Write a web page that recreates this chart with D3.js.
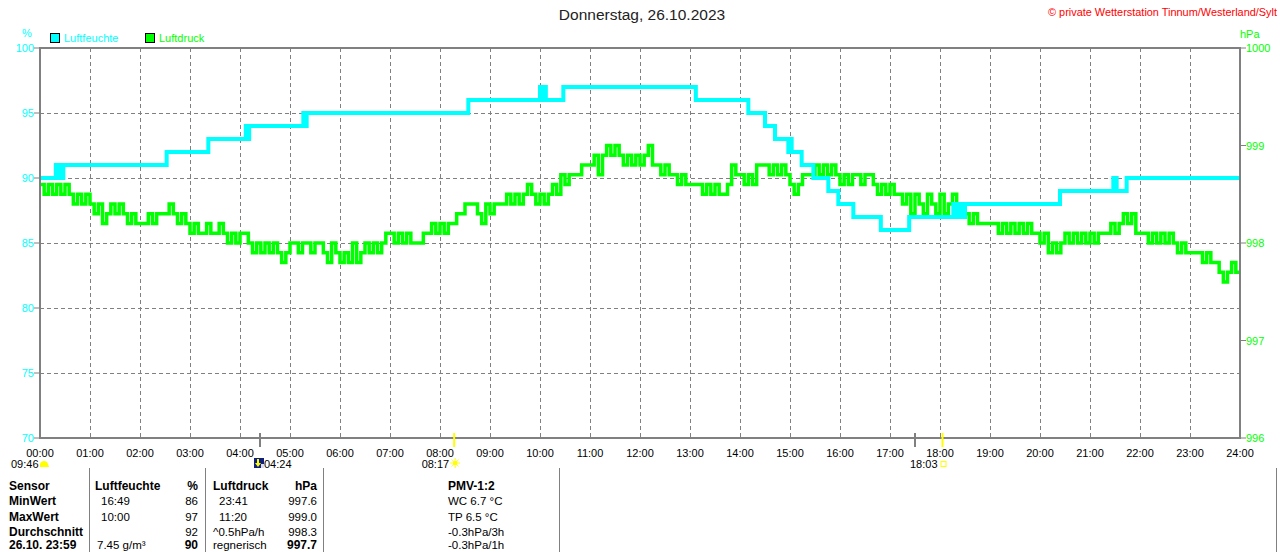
<!DOCTYPE html>
<html><head><meta charset="utf-8">
<script src="https://cdn.jsdelivr.net/npm/d3@7"></script>
<style>
body{margin:0;background:#fff;}
svg{display:block;font-family:"Liberation Sans",Arial,sans-serif;}
</style>
</head><body>
<svg id="c" width="1280" height="552"></svg>
<script>
// ---------- DATA ----------
const title = "Donnerstag, 26.10.2023";
const copyright = "© private Wetterstation Tinnum/Westerland/Sylt";
const seriesNames = ["Luftfeuchte", "Luftdruck"];
const unitLeft = "%", unitRight = "hPa";
const xTickLabels = ["00:00","01:00","02:00","03:00","04:00","05:00","06:00","07:00","08:00","09:00","10:00","11:00","12:00","13:00","14:00","15:00","16:00","17:00","18:00","19:00","20:00","21:00","22:00","23:00","24:00"];
const humTicks = [70, 75, 80, 85, 90, 95, 100];
const pressTicks = [996, 997, 998, 999, 1000];

// humidity (%) step change points, minutes after midnight
const humTimes  = [0,19,22,23,26,28,152,202,247,249,251,316,318,320,514,600,602,604,607,628,787,850,870,882,898,900,902,914,928,946,958,976,1009,1043,1096,1098,1102,1106,1110,1224,1288,1292,1304,1440];
const humValues = [90,91,90,91,90,91,92,93,94,93,94,95,94,95,96,97,96,97,96,97,96,95,94,93,92,93,92,91,90,89,88,87,86,87,88,87,88,87,88,89,90,89,90,90];

// air pressure (hPa), one reading every 5 minutes (12 per hour), last = 24:00
const pressStepMin = 5;
const pressValues = [
 998.6,998.5,998.6,998.5,998.6,998.5,998.6,998.5,998.4,998.5,998.4,998.5,
 998.4,998.3,998.4,998.2,998.3,998.4,998.3,998.4,998.3,998.2,998.3,998.2,
 998.2,998.2,998.3,998.2,998.3,998.3,998.3,998.4,998.3,998.2,998.3,998.2,
 998.1,998.2,998.1,998.1,998.2,998.1,998.1,998.2,998.1,998.0,998.1,998.0,
 998.1,998.1,998.0,997.9,998.0,997.9,998.0,997.9,998.0,997.9,997.8,997.9,
 998.0,998.0,997.9,998.0,998.0,997.9,998.0,998.0,997.9,997.8,998.0,997.9,
 997.8,997.9,997.8,998.0,997.8,997.9,998.0,997.9,998.0,997.9,998.0,998.1,
 998.1,998.0,998.1,998.0,998.1,998.0,998.0,998.0,998.1,998.1,998.2,998.1,
 998.2,998.1,998.2,998.2,998.3,998.3,998.4,998.4,998.4,998.3,998.2,998.4,
 998.3,998.4,998.4,998.4,998.5,998.4,998.5,998.4,998.5,998.6,998.5,998.4,
 998.5,998.4,998.5,998.6,998.5,998.7,998.6,998.7,998.7,998.7,998.8,998.8,
 998.8,998.9,998.7,998.9,999.0,998.9,999.0,998.9,998.8,998.9,998.8,998.9,
 998.8,998.9,999.0,998.8,998.8,998.7,998.8,998.7,998.7,998.6,998.7,998.6,
 998.6,998.6,998.6,998.5,998.6,998.5,998.6,998.5,998.5,998.6,998.8,998.7,
 998.7,998.6,998.7,998.6,998.8,998.8,998.8,998.7,998.8,998.7,998.8,998.7,
 998.6,998.5,998.6,998.7,998.7,998.7,998.8,998.7,998.8,998.7,998.8,998.7,
 998.6,998.7,998.6,998.7,998.7,998.6,998.7,998.7,998.6,998.5,998.6,998.5,
 998.6,998.5,998.5,998.4,998.5,998.3,998.5,998.4,998.3,998.5,998.4,998.3,
 998.5,998.3,998.4,998.5,998.3,998.4,998.3,998.2,998.3,998.2,998.2,998.2,
 998.2,998.2,998.1,998.2,998.1,998.2,998.1,998.2,998.1,998.2,998.1,998.1,
 998.0,998.1,997.9,998.0,997.9,998.0,998.1,998.0,998.1,998.0,998.1,998.0,
 998.1,998.0,998.1,998.1,998.1,998.2,998.1,998.2,998.3,998.2,998.3,998.1,
 998.1,998.1,998.0,998.1,998.0,998.1,998.0,998.1,998.0,997.9,998.0,997.9,
 997.9,997.9,997.9,997.8,997.9,997.8,997.8,997.7,997.6,997.7,997.8,997.7,
 997.7
];

// astronomical markers (minutes after midnight)
const eventTimes  = [264, 497, 1083];       // 04:24, 08:17, 18:03
const eventLabels = ["04:24", "08:17", "18:03"];
const eventKinds  = ["moon", "sun", "sunset"];
const extraMarkTime = 1050;                 // gray mark 17:30
const moonsetLabel = "09:46";

// summary table
const tableRows = [
  ["Sensor", "Luftfeuchte", "%", "Luftdruck", "hPa", "PMV-1:2"],
  ["MinWert", "16:49", "86", "23:41", "997.6", "WC 6.7 °C"],
  ["MaxWert", "10:00", "97", "11:20", "999.0", "TP 6.5 °C"],
  ["Durchschnitt", "", "92", "^0.5hPa/h", "998.3", "-0.3hPa/3h"],
  ["26.10. 23:59", "7.45 g/m³", "90", "regnerisch", "997.7", "-0.3hPa/1h"]
];

// ---------- STYLE / LAYOUT ----------
const L = 40, R = 1240, T = 48, B = 438;
const cHum = "#00ffff", cPress = "#00ff00", cAxis = "#808080";

const svg = d3.select("#c");
const x = d3.scaleLinear().domain([0, 1440]).range([L, R]);
const yH = d3.scaleLinear().domain([70, 100]).range([B, T]);
const yP = d3.scaleLinear().domain([996, 1000]).range([B, T]);

// title & copyright
svg.append("text").attr("x", 642).attr("y", 20).attr("text-anchor", "middle")
  .attr("font-size", 15.5).attr("fill", "#222").text(title);
svg.append("text").attr("x", 1277).attr("y", 16).attr("text-anchor", "end")
  .attr("font-size", 11).attr("fill", "#ff0000")
  .attr("textLength", 229).attr("lengthAdjust", "spacingAndGlyphs").text(copyright);

// units
svg.append("text").attr("x", 22).attr("y", 37).attr("font-size", 11).attr("fill", cHum).text(unitLeft);
svg.append("text").attr("x", 1240).attr("y", 38).attr("font-size", 11).attr("fill", cPress).text(unitRight);

// legend
const legX = [50, 145], legC = [cHum, cPress];
seriesNames.forEach((n, i) => {
  svg.append("rect").attr("x", legX[i] + 0.5).attr("y", 33.5).attr("width", 9).attr("height", 9)
    .attr("fill", legC[i]).attr("stroke", "#000").attr("stroke-width", 1);
  svg.append("text").attr("x", legX[i] + 14).attr("y", 42).attr("font-size", 11)
    .attr("fill", legC[i]).text(n);
});

// grid
const grid = svg.append("g").attr("stroke", cAxis).attr("stroke-width", 1).attr("stroke-dasharray", "4,3");
d3.range(1, 24).forEach(h => {
  const xx = Math.round(x(h * 60)) + 0.5;
  grid.append("line").attr("x1", xx).attr("x2", xx).attr("y1", T).attr("y2", B);
});
humTicks.slice(1, -1).forEach(v => {
  const yy = Math.round(yH(v)) + 0.5;
  grid.append("line").attr("x1", L).attr("x2", R).attr("y1", yy).attr("y2", yy);
});

// series lines
const pressData = pressValues.map((v, i) => [i * pressStepMin, v]);
const humData = humTimes.map((t, i) => [t, humValues[i]]);
const step = d3.curveStepAfter;

svg.append("path").datum(pressData)
  .attr("d", d3.line().curve(step).x(d => x(d[0])).y(d => yP(d[1])))
  .attr("fill", "none").attr("stroke", cPress).attr("stroke-width", 3.5);
svg.append("path").datum(humData)
  .attr("d", d3.line().curve(step).x(d => x(d[0])).y(d => yH(d[1])))
  .attr("fill", "none").attr("stroke", cHum).attr("stroke-width", 4);

// frame
svg.append("rect").attr("x", L).attr("y", T).attr("width", R - L).attr("height", B - T)
  .attr("fill", "none").attr("stroke", cAxis).attr("stroke-width", 2);

// left axis labels
const axL = svg.append("g");
humTicks.forEach(v => {
  axL.append("line").attr("x1", 34).attr("x2", L).attr("y1", yH(v)).attr("y2", yH(v)).attr("stroke", cAxis);
  axL.append("text").attr("x", 34).attr("y", yH(v) + 4).attr("text-anchor", "end")
    .attr("font-size", 11).attr("fill", cHum).text(v);
});
// right axis labels
pressTicks.forEach(v => {
  axL.append("line").attr("x1", R).attr("x2", R + 6).attr("y1", yP(v)).attr("y2", yP(v)).attr("stroke", cAxis);
  axL.append("text").attr("x", R + 6).attr("y", yP(v) + 4)
    .attr("font-size", 11).attr("fill", cPress).text(v);
});
// bottom labels
xTickLabels.forEach((lab, i) => {
  svg.append("text").attr("x", x(i * 60)).attr("y", 457).attr("text-anchor", "middle")
    .attr("font-size", 11).attr("fill", "#000").text(lab);
});

// event marks
svg.append("line").attr("x1", x(eventTimes[0])).attr("x2", x(eventTimes[0])).attr("y1", 433).attr("y2", 447)
  .attr("stroke", cAxis).attr("stroke-width", 2);
svg.append("line").attr("x1", x(extraMarkTime)).attr("x2", x(extraMarkTime)).attr("y1", 433).attr("y2", 447)
  .attr("stroke", cAxis).attr("stroke-width", 2);
[1, 2].forEach(i => {
  svg.append("line").attr("x1", x(eventTimes[i])).attr("x2", x(eventTimes[i])).attr("y1", 433).attr("y2", 447)
    .attr("stroke", "#ffff00").attr("stroke-width", 2);
});

// moonset label at left
svg.append("text").attr("x", 11).attr("y", 468).attr("font-size", 11).attr("fill", "#000").text(moonsetLabel);
svg.append("path").attr("d", "M40,467 L40,464 Q41,461 44,461 Q47,461 48,464 L49,467 Z").attr("fill", "#ffff00");

eventTimes.forEach((t, i) => {
  const ex = x(t);
  if (eventKinds[i] === "moon") {
    svg.append("rect").attr("x", ex - 6).attr("y", 458).attr("width", 10).attr("height", 10).attr("fill", "#10207a");
    svg.append("path").attr("d", `M${ex-3},459 L${ex-1},459 L${ex-1},463 L${ex+1},463 L${ex-2},467 L${ex-5},463 L${ex-3},463 Z`).attr("fill", "#ffff00");
    svg.append("rect").attr("x", ex + 1).attr("y", 464).attr("width", 3).attr("height", 4).attr("fill", "#dde");
    svg.append("text").attr("x", ex + 4).attr("y", 468).attr("font-size", 11).attr("fill", "#000").text(eventLabels[i]);
  } else if (eventKinds[i] === "sun") {
    svg.append("circle").attr("cx", ex + 1).attr("cy", 463).attr("r", 2.5).attr("fill", "#ffff00");
    const rays = svg.append("g").attr("stroke", "#ffff00").attr("stroke-width", 1);
    d3.range(8).forEach(k => {
      const a = k * Math.PI / 4;
      rays.append("line").attr("x1", ex + 1 + Math.cos(a) * 3).attr("y1", 463 + Math.sin(a) * 3)
        .attr("x2", ex + 1 + Math.cos(a) * 5).attr("y2", 463 + Math.sin(a) * 5);
    });
    svg.append("text").attr("x", ex - 5).attr("y", 468).attr("text-anchor", "end")
      .attr("font-size", 11).attr("fill", "#000").text(eventLabels[i]);
  } else {
    svg.append("rect").attr("x", ex - 1.5).attr("y", 461.5).attr("width", 5).attr("height", 5)
      .attr("fill", "none").attr("stroke", "#ffff00").attr("stroke-width", 1);
    svg.append("text").attr("x", ex - 5).attr("y", 468).attr("text-anchor", "end")
      .attr("font-size", 11).attr("fill", "#000").text(eventLabels[i]);
  }
});

// table
const sepX = [89.5, 205.5, 323.5, 559.5, 1276.5];
sepX.forEach(sx => svg.append("line").attr("x1", sx).attr("x2", sx).attr("y1", 468).attr("y2", 552)
  .attr("stroke", cAxis).attr("stroke-width", 1));
const rowY = [489.5, 505, 520.5, 536, 548.5];
const colX = [9, 95, 198, 213, 317, 448];
const colAnchor = ["start", "start", "end", "start", "end", "start"];
tableRows.forEach((row, r) => {
  row.forEach((cell, c) => {
    if (!cell) return;
    const bold = r === 0 || c === 0 || (r === 4 && (c === 2 || c === 4));
    let cx = colX[c];
    if (r > 0 && c === 1) cx = (r === 4) ? 97 : 101;
    if (r > 0 && r < 3 && c === 3) cx = 219;
    svg.append("text").attr("x", cx).attr("y", rowY[r]).attr("text-anchor", colAnchor[c])
      .attr("font-size", bold ? 12 : 11.5).attr("font-weight", bold ? "bold" : "normal")
      .attr("fill", "#000").text(cell);
  });
});
</script>
</body></html>
